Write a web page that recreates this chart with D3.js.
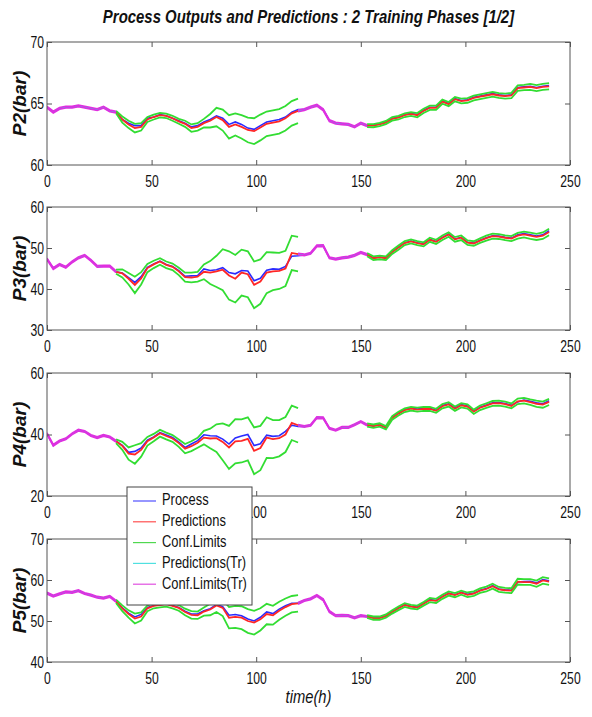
<!DOCTYPE html>
<html><head><meta charset="utf-8">
<script src="https://cdn.jsdelivr.net/npm/d3@7"></script>
<style>body{margin:0;background:#fff} text{font-family:"Liberation Sans",Arial,sans-serif;}</style>
</head><body>
<svg id="c" width="592" height="717"></svg>
<script>
const hours=[0,3,6,9,12,15,18,21,24,27,30,33,36,39,42,45,48,51,54,57,60,63,66,69,72,75,78,81,84,87,90,93,96,99,102,105,108,111,114,117,120,123,126,129,132,135,138,141,144,147,150,153,156,159,162,165,168,171,174,177,180,183,186,189,192,195,198,201,204,207,210,213,216,219,222,225,228,231,234,237,240];
const phases=[{from:0,to:33,kind:"train"},{from:33,to:120,kind:"test"},{from:120,to:153,kind:"train"},{from:153,to:240,kind:"test"}];
const panelNames=["P2(bar)","P3(bar)","P4(bar)","P5(bar)"];
const yDomains=[[60,70],[30,60],[20,60],[40,70]];
const yTicks=[[60,65,70],[30,40,50,60],[20,40,60],[40,50,60,70]];
const xTicks=[0,50,100,150,200,250];
const legendLabels=["Process","Predictions","Conf.Limits","Predictions(Tr)","Conf.Limits(Tr)"];

const p2Process=[64.7,64.3,64.6,64.7,64.7,64.8,64.7,64.6,64.5,64.7,64.4,64.3,
63.7,63.4,63.2,63.2,63.8,63.9,64.1,64.0,63.8,63.6,63.4,63.1,63.2,63.5,63.7,64.0,63.8,63.3,63.5,63.3,63.0,62.9,63.2,63.5,63.6,63.7,63.9,64.3,64.5,
64.5,64.7,64.85,64.5,63.6,63.4,63.35,63.3,63.1,63.4,63.2,
63.25,63.35,63.5,63.8,63.9,64.1,64.2,64.1,64.45,64.7,64.7,65.2,65.0,65.4,65.25,65.3,65.5,65.6,65.7,65.8,65.7,65.65,65.7,66.3,66.35,66.4,66.3,66.4,66.45];
const p2Pred=[64.7,64.3,64.6,64.7,64.7,64.8,64.7,64.6,64.5,64.7,64.4,64.3,
63.7,63.3,63.0,63.1,63.7,63.9,64.05,64.0,63.8,63.55,63.35,63.0,63.1,63.4,63.6,63.9,63.65,63.1,63.3,63.1,62.85,62.75,63.05,63.35,63.45,63.55,63.8,64.2,64.4,
64.5,64.7,64.85,64.5,63.6,63.4,63.35,63.3,63.1,63.4,63.2,
63.2,63.3,63.45,63.75,63.85,64.05,64.15,64.05,64.4,64.65,64.65,65.15,64.95,65.35,65.2,65.25,65.45,65.55,65.65,65.75,65.65,65.6,65.65,66.25,66.3,66.35,66.25,66.35,66.4];
const p2Band=[0.07,0.07,0.07,0.07,0.07,0.07,0.07,0.07,0.07,0.07,0.07,0.1,
0.25,0.3,0.35,0.3,0.2,0.2,0.18,0.18,0.2,0.2,0.25,0.3,0.3,0.35,0.55,0.75,0.85,0.95,0.9,0.95,1.0,1.05,1.05,1.0,1.0,1.0,1.0,1.0,1.0,
0.07,0.07,0.07,0.07,0.07,0.07,0.07,0.07,0.07,0.07,0.12,
0.13,0.13,0.13,0.15,0.15,0.15,0.15,0.17,0.17,0.17,0.17,0.17,0.17,0.17,0.19,0.19,0.19,0.19,0.19,0.19,0.2,0.2,0.22,0.22,0.22,0.24,0.24,0.25,0.25];

const p3Process=[47.3,45.0,46.0,45.3,46.6,47.6,48.2,47.0,45.5,45.6,45.6,44.2,
43.9,42.8,41.6,43.0,45.3,46.1,46.8,46.0,45.5,44.5,43.1,43.2,43.3,44.9,44.5,44.7,45.2,44.0,43.7,44.5,44.4,42.0,42.6,44.6,44.9,44.8,45.5,48.0,48.1,
48.3,48.7,50.5,50.6,47.6,47.3,47.6,47.8,48.2,48.9,48.4,
47.6,47.8,47.6,49.1,50.2,51.3,51.7,51.3,51.0,52.1,51.6,52.6,53.4,52.2,52.6,51.4,51.2,51.9,52.5,53.0,52.9,52.6,52.4,53.2,53.5,53.2,52.9,53.2,54.2];
const p3Pred=[47.3,45.0,46.0,45.3,46.6,47.6,48.2,47.0,45.5,45.6,45.6,44.2,
43.8,42.5,41.0,42.6,45.1,46.0,46.7,45.9,45.4,44.3,42.9,42.8,43.0,44.2,44.0,44.3,44.7,43.3,42.5,44.0,43.6,41.0,41.8,44.0,44.3,44.4,45.0,48.8,48.5,
48.3,48.7,50.5,50.6,47.6,47.3,47.6,47.8,48.2,48.9,48.4,
47.5,47.7,47.5,49.0,50.1,51.2,51.6,51.2,50.9,52.0,51.5,52.5,53.3,52.1,52.5,51.3,51.1,51.8,52.4,52.9,52.8,52.5,52.3,53.0,53.3,53.0,52.7,53.0,53.9];
const p3Band=[0.2,0.2,0.2,0.2,0.2,0.2,0.2,0.2,0.2,0.2,0.2,0.5,
1.0,1.4,2.0,1.5,1.0,0.9,0.8,0.8,0.8,0.9,1.1,1.2,1.2,1.8,2.8,3.8,5.0,5.9,5.8,5.6,5.6,5.7,5.4,5.0,4.6,4.4,4.3,4.2,4.2,
0.2,0.2,0.2,0.2,0.2,0.2,0.2,0.2,0.2,0.2,0.4,
0.45,0.45,0.45,0.45,0.5,0.5,0.5,0.5,0.5,0.5,0.5,0.55,0.55,0.55,0.55,0.55,0.55,0.55,0.6,0.6,0.6,0.6,0.6,0.7,0.7,0.75,0.75,0.8,0.8];

const p4Process=[40.3,36.5,37.9,38.6,40.2,41.4,41.0,39.7,39.0,39.7,39.2,37.8,
36.5,34.2,34.5,35.6,38.2,39.2,40.6,39.8,39.0,37.5,35.8,36.9,38.0,39.9,39.6,39.5,38.5,36.9,38.9,39.5,40.0,36.4,37.0,39.8,39.4,39.6,41.0,43.0,42.6,
42.6,43.0,45.5,45.4,42.0,41.4,42.3,42.3,43.2,44.2,43.1,
42.8,43.2,42.3,45.6,47.0,48.1,48.6,48.3,48.5,48.5,47.9,49.4,50.0,48.6,49.7,49.3,47.6,48.9,49.6,50.3,50.4,50.1,49.5,50.6,51.2,50.8,50.3,50.0,51.0];
const p4Pred=[40.3,36.5,37.9,38.6,40.2,41.4,41.0,39.7,39.0,39.7,39.2,37.8,
36.3,33.8,33.5,35.0,37.8,39.0,40.4,39.5,38.7,37.2,35.4,36.2,37.3,39.0,38.7,38.8,37.6,35.8,37.8,37.9,38.6,34.7,35.6,39.0,38.5,38.8,40.0,43.8,43.0,
42.6,43.0,45.5,45.4,42.0,41.4,42.3,42.3,43.2,44.2,43.1,
42.7,43.1,42.2,45.4,46.8,47.9,48.4,48.1,48.3,48.3,47.7,49.2,49.8,48.4,49.5,49.1,47.4,48.7,49.4,50.1,50.2,49.9,49.3,50.8,51.0,50.5,50.0,49.7,50.6];
const p4Band=[0.25,0.25,0.25,0.25,0.25,0.25,0.25,0.25,0.25,0.25,0.25,0.6,
1.3,2.0,3.0,2.2,1.4,1.2,1.1,1.1,1.1,1.2,1.5,1.6,1.6,2.2,3.2,4.5,6.0,7.0,7.2,7.0,7.0,7.6,7.2,6.6,6.2,5.9,5.7,5.6,5.6,
0.25,0.25,0.25,0.25,0.25,0.25,0.25,0.25,0.25,0.25,0.5,
0.55,0.55,0.55,0.6,0.6,0.6,0.6,0.65,0.65,0.65,0.65,0.7,0.7,0.7,0.7,0.7,0.7,0.75,0.75,0.8,0.8,0.8,0.8,0.9,0.9,0.9,1.0,1.0,1.0];

const p5Process=[56.8,56.1,56.6,57.1,57.0,57.4,56.7,56.3,55.8,55.6,56.0,54.8,
53.2,51.9,51.0,51.6,53.3,53.8,54.0,54.2,53.8,53.3,52.4,51.7,51.7,52.5,53.0,54.0,53.5,51.4,51.6,51.3,50.5,50.0,50.9,52.2,51.8,52.9,53.7,54.3,54.4,
55.0,55.4,56.2,55.2,52.3,51.3,51.4,51.3,50.8,51.3,51.1,
50.8,50.8,51.3,52.3,53.2,54.0,53.6,53.4,54.3,55.2,55.0,56.0,56.8,56.4,57.0,56.5,56.8,57.5,57.9,58.6,57.8,57.6,57.5,59.5,59.6,59.7,59.3,60.1,59.8];
const p5Pred=[56.8,56.1,56.6,57.1,57.0,57.4,56.7,56.3,55.8,55.6,56.0,54.8,
53.1,51.7,50.6,51.1,53.1,53.7,53.9,54.1,53.7,53.2,52.2,51.5,51.4,52.3,52.8,53.8,53.2,50.8,51.0,50.8,50.0,49.6,50.4,51.7,51.4,52.5,53.4,54.1,54.3,
55.0,55.4,56.2,55.2,52.3,51.3,51.4,51.3,50.8,51.3,51.1,
50.7,50.7,51.2,52.2,53.1,53.9,53.5,53.3,54.2,55.1,54.9,55.9,56.7,56.3,56.9,56.4,56.7,57.4,57.8,58.5,57.7,57.5,57.4,59.6,59.5,59.5,59.1,59.9,59.6];
const p5Band=[0.2,0.2,0.2,0.2,0.2,0.2,0.2,0.2,0.2,0.2,0.2,0.4,
0.7,0.9,1.2,1.0,0.7,0.6,0.6,0.6,0.6,0.7,0.8,0.9,0.9,1.0,1.4,1.6,2.0,2.6,2.7,2.8,2.9,2.9,2.7,2.5,2.3,2.2,2.1,2.0,2.0,
0.2,0.2,0.2,0.2,0.2,0.2,0.2,0.2,0.2,0.2,0.35,
0.4,0.4,0.4,0.4,0.45,0.45,0.45,0.45,0.45,0.5,0.5,0.5,0.5,0.5,0.5,0.55,0.55,0.55,0.6,0.6,0.6,0.6,0.6,0.7,0.7,0.7,0.75,0.8,0.8];

const panelData=[
  {process:p2Process,pred:p2Pred,band:p2Band},
  {process:p3Process,pred:p3Pred,band:p3Band},
  {process:p4Process,pred:p4Pred,band:p4Band},
  {process:p5Process,pred:p5Pred,band:p5Band}
];

const colors={process:"#2b2bff",pred:"#ff2626",conf:"#33dd33",predTr:"#22e0e0",confTr:"#e02ee0"};
const legendColors=["#5050ff","#ff5050","#50d850","#50e0e0","#e050e0"];

const svg=d3.select("#c");
const defs=svg.append("defs");
defs.append("filter").attr("id","soft").attr("x","-5%").attr("y","-5%").attr("width","110%").attr("height","110%")
  .append("feGaussianBlur").attr("stdDeviation",0.4);

const left=47,right=570,panelTops=[42,207,373,539],panelH=123;
const x=d3.scaleLinear().domain([0,250]).range([left,right]);

svg.append("text").attr("transform",`translate(${(left+right)/2},23) scale(0.83,1)`).attr("text-anchor","middle")
  .attr("font-size",18).attr("font-weight","bold").attr("font-style","italic").attr("fill","#111")
  .text("Process Outputs and Predictions : 2 Training Phases [1/2]");

panelData.forEach((pd,pi)=>{
  const top=panelTops[pi];
  const y=d3.scaleLinear().domain(yDomains[pi]).range([top+panelH,top]);
  const g=svg.append("g");
  const clipId="clip"+pi;
  g.append("clipPath").attr("id",clipId).append("rect").attr("x",left).attr("y",top).attr("width",right-left).attr("height",panelH);
  const plot=g.append("g").attr("clip-path",`url(#${clipId})`).append("g").attr("filter","url(#soft)");
  const idx=ph=>hours.map((h,i)=>i).filter(i=>hours[i]>=ph.from&&hours[i]<=ph.to);
  const line=(arr)=>d3.line().x(i=>x(hours[i])).y(i=>y(arr(i)));
  const bandAt=(ph,ids,i)=>{
    if(ph.kind==="train"){
      const k=ids.indexOf(i);
      if(k===0&&ids.length>1) return pd.band[ids[1]];
      if(k===ids.length-1&&ids.length>1) return pd.band[ids[k-1]];
    }
    return pd.band[i];
  };
  plot.append("path").attr("d",line(i=>pd.process[i])(hours.map((h,i)=>i)))
    .attr("fill","none").attr("stroke",colors.process).attr("stroke-width",1.6);
  phases.filter(p=>p.kind==="test").forEach(ph=>{
    const ids=idx(ph);
    plot.append("path").attr("d",line(i=>pd.pred[i])(ids)).attr("fill","none").attr("stroke",colors.pred).attr("stroke-width",1.8);
  });
  phases.filter(p=>p.kind==="test").forEach(ph=>{
    const ids=idx(ph);
    [1,-1].forEach(s=>{
      plot.append("path").attr("d",line(i=>pd.pred[i]+s*bandAt(ph,ids,i))(ids)).attr("fill","none").attr("stroke",colors.conf).attr("stroke-width",1.8);
    });
  });
  phases.filter(p=>p.kind==="train").forEach(ph=>{
    const ids=idx(ph);
    plot.append("path").attr("d",line(i=>pd.pred[i])(ids)).attr("fill","none").attr("stroke",colors.predTr).attr("stroke-width",1.2);
    [1,-1].forEach(s=>{
      plot.append("path").attr("d",line(i=>pd.pred[i]+s*bandAt(ph,ids,i))(ids)).attr("fill","none").attr("stroke",colors.confTr).attr("stroke-width",1.6);
    });
  });
  g.append("rect").attr("x",left).attr("y",top).attr("width",right-left).attr("height",panelH)
    .attr("fill","none").attr("stroke","#555").attr("stroke-width",1);
  const xa=d3.axisBottom(x).tickValues(xTicks).tickSizeInner(-5).tickSizeOuter(0).tickPadding(11);
  const xg=g.append("g").attr("transform",`translate(0,${top+panelH})`).call(xa);
  const xt=d3.axisTop(x).tickValues(xTicks).tickSizeInner(-5).tickSizeOuter(0).tickFormat("");
  const xtg=g.append("g").attr("transform",`translate(0,${top})`).call(xt);
  const ya=d3.axisLeft(y).tickValues(yTicks[pi]).tickSizeInner(-5).tickSizeOuter(0).tickPadding(4);
  const yg=g.append("g").attr("transform",`translate(${left},0)`).call(ya);
  const yr=d3.axisRight(y).tickValues(yTicks[pi]).tickSizeInner(-5).tickSizeOuter(0).tickFormat("");
  const yrg=g.append("g").attr("transform",`translate(${right},0)`).call(yr);
  [xg,xtg,yg,yrg].forEach(a=>{a.select(".domain").remove();a.selectAll("line").attr("stroke","#555");
    a.selectAll("text").attr("font-size",16).attr("fill","#111").style("font-family",'"Liberation Sans",Arial,sans-serif');});
  xg.selectAll("text").attr("transform","scale(0.76,1)");
  yg.selectAll("text").attr("transform","scale(0.76,1)");
  svg.append("text").attr("transform",`translate(21,${top+panelH/2}) rotate(-90)`).attr("text-anchor","middle")
    .attr("dominant-baseline","middle").attr("font-size",19).attr("font-weight","bold").attr("font-style","italic").attr("fill","#111")
    .text(panelNames[pi]);
});

svg.append("text").attr("transform",`translate(${(left+right)/2},703) scale(0.82,1)`).attr("text-anchor","middle")
  .attr("font-size",18).attr("font-style","italic").attr("fill","#111").text("time(h)");

const lg=svg.append("g");
lg.append("rect").attr("x",127).attr("y",487).attr("width",125).attr("height",118).attr("fill","#fff").attr("stroke","#444").attr("stroke-width",1);
legendLabels.forEach((l,i)=>{
  const yy=501+i*20.8;
  lg.append("line").attr("x1",133).attr("x2",156).attr("y1",yy).attr("y2",yy).attr("stroke",legendColors[i]).attr("stroke-width",1.2);
  lg.append("text").attr("transform",`translate(162,${yy}) scale(0.76,1)`).attr("dominant-baseline","middle").attr("font-size",17).attr("fill","#111").text(l);
});
</script>
</body></html>
